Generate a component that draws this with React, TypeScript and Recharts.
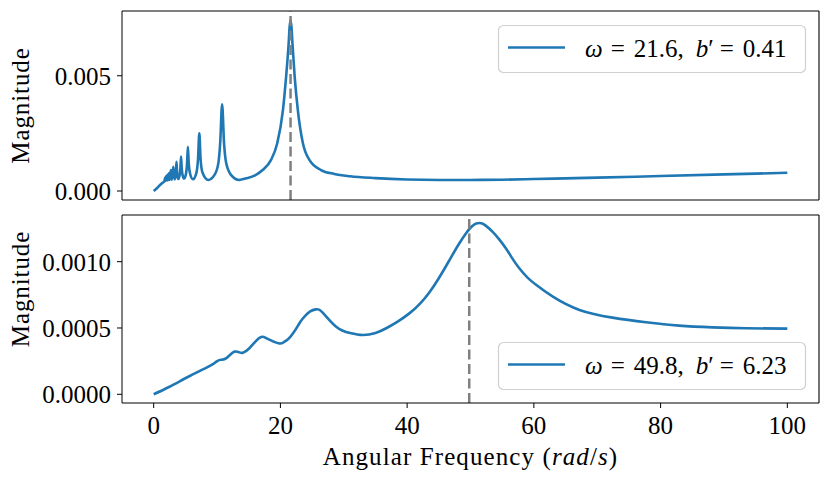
import React from "react";
import { LineChart, Line, XAxis, YAxis, ReferenceLine, Legend } from "recharts";

const BLUE = "#1f77b4";
const FONT = "'Liberation Serif', 'DejaVu Serif', serif";

// top panel: magnitude vs angular frequency (rad/s)
const topFreq = [
  0, 0.5, 1.0, 1.4, 1.7, 1.8, 1.88, 1.96, 2.06, 2.16, 2.27, 2.4, 2.53, 2.7, 2.87, 3.09, 3.3,
  3.5, 3.6, 3.7, 3.9, 4.1, 4.22, 4.32, 4.42, 4.55, 4.8, 5.1, 5.27, 5.4, 5.53, 5.75, 6.2,
  6.75, 7.0, 7.2, 7.4, 7.7, 8.6, 9.6, 10.2, 10.5, 10.8, 11.1, 11.45, 12.2, 13.5,
  14.6, 16.0, 17.2, 18.5, 19.5, 20.4, 20.9, 21.3, 21.45, 21.6, 21.75, 21.9, 22.25, 22.75,
  23.55, 24.6, 26.4, 28.5, 31, 35, 40, 45, 50, 55, 60, 70, 80, 90, 100,
];
const topMag = [
  0, 0.00012, 0.00026, 0.00036, 0.00043, 0.00058, 0.00045, 0.00064, 0.00046, 0.0007, 0.00047,
  0.00077, 0.00048, 0.00091, 0.00049, 0.00105, 0.0005, 0.00075, 0.00127, 0.00075, 0.00052,
  0.0007, 0.001, 0.00149, 0.001, 0.0007, 0.00054, 0.00075, 0.0012, 0.00192, 0.0012, 0.00075,
  0.00051, 0.0008, 0.0014, 0.0025, 0.0014, 0.0008, 0.00048, 0.0007, 0.0012, 0.0021, 0.00376,
  0.0021, 0.0012, 0.0007, 0.00048, 0.00055, 0.00068, 0.00091, 0.00134, 0.00207, 0.00351,
  0.00496, 0.0064, 0.0071, 0.00742, 0.0071, 0.0064, 0.00496, 0.00351, 0.00207, 0.00134,
  0.00091, 0.00074, 0.00064, 0.00056, 0.0005, 0.00048, 0.00048, 0.00049, 0.00052, 0.00058,
  0.00065, 0.00072, 0.00079,
];

// bottom panel
const bottomFreq = [
  0, 2.5, 5.7, 8.8, 9.6, 10.1, 10.6, 11.3, 12.0, 12.8, 13.4, 14.1, 15.1, 16.2, 17.1, 18.0,
  19.7, 20.5, 21.2, 22.0, 22.8, 23.5, 24.7, 25.7, 26.6, 28.8, 31.0, 33.0, 35.0, 36.7, 38.5,
  40.4, 42.0, 43.5, 45.0, 46.6, 48.0, 49.3, 50.2, 50.9, 51.7, 52.4, 53.5, 54.5, 55.6, 56.6,
  57.7, 59.0, 60.4, 63.0, 67.2, 72.4, 77.7, 82.9, 88.2, 93.4, 100,
];
const bottomMag = [
  0, 0.000057, 0.000138, 0.000213, 0.000236, 0.000252, 0.00026, 0.000268, 0.000295, 0.000322,
  0.000318, 0.000314, 0.000347, 0.000405, 0.000434, 0.000418, 0.000385, 0.000392, 0.000415,
  0.00046, 0.00052, 0.00057, 0.000625, 0.000641, 0.00062, 0.00051, 0.000462, 0.000447,
  0.000462, 0.000498, 0.000548, 0.000612, 0.000682, 0.000768, 0.000875, 0.001005, 0.00112,
  0.001215, 0.001265, 0.001288, 0.00129, 0.001272, 0.001225, 0.00117, 0.0011, 0.001025,
  0.00095, 0.00088, 0.000824, 0.000736, 0.000636, 0.000578, 0.000543, 0.000518, 0.000505,
  0.000498, 0.000495,
];

const xTicks = [0, 20, 40, 60, 80, 100];
const topYTicks = [0, 0.005];
const bottomYTicks = [0, 0.0005, 0.001];

const topOmega = 21.6;
const topB = 0.41;
const bottomOmega = 49.8;
const bottomB = 6.23;

const zip = (xs: number[], ys: number[]) => xs.map((f, i) => ({ f, m: ys[i] }));
const topData = zip(topFreq, topMag);
const bottomData = zip(bottomFreq, bottomMag);

const X_DOMAIN: [number, number] = [-5, 105];
const TOP_DOMAIN: [number, number] = [-0.00039, 0.00781];
const BOTTOM_DOMAIN: [number, number] = [-0.0000656, 0.001352];

const tickStyle = { fill: "#000", fontSize: 25, fontFamily: FONT };

function LegendBox({ omega, b }: { omega: number; b: number }) {
  return (
    <svg width={308} height={48} style={{ display: "block", overflow: "visible" }}>
      <rect x={0.5} y={0.5} width={307} height={47} rx={5} fill="#fff" fillOpacity={0.8} stroke="#d0d0d0" strokeWidth={1.2} />
      <line x1={10} x2={67} y1={22.5} y2={22.5} stroke={BLUE} strokeWidth={2.6} />
      <text x={87} y={32} fontSize={25} fill="#000" fontFamily={FONT}>
        <tspan fontStyle="italic">ω</tspan>
        <tspan dx={8}>=</tspan>
        <tspan dx={9}>{omega.toFixed(1)},</tspan>
        <tspan dx={12} fontStyle="italic">b</tspan>
        <tspan>′</tspan>
        <tspan dx={6}>=</tspan>
        <tspan dx={9}>{b.toFixed(2)}</tspan>
      </text>
    </svg>
  );
}

function YLabel(props: any) {
  const vb = props.viewBox || { y: 11, height: 189 };
  const cy = vb.y + vb.height / 2 + (props.shift || 0);
  return (
    <text
      x={29}
      y={cy}
      transform={`rotate(-90 29 ${cy})`}
      textAnchor="middle"
      fontSize={25}
      letterSpacing={0.9}
      fill="#000"
      fontFamily={FONT}
    >
      Magnitude
    </text>
  );
}

function XLabel(props: any) {
  const vb = props.viewBox || { x: 122, y: 199, width: 697 };
  return (
    <text
      x={vb.x + vb.width / 2}
      y={vb.y + 62}
      textAnchor="middle"
      fontSize={25}
      letterSpacing={1.1}
      fill="#000"
      fontFamily={FONT}
    >
      Angular Frequency (<tspan fontStyle="italic">rad</tspan>/<tspan fontStyle="italic">s</tspan>)
    </text>
  );
}

function Panel({
  data, height, yDomain, yTicks, digits, omega, b, legendTop, showX, curve, labelShift,
}: {
  data: { f: number; m: number }[]; height: number; yDomain: [number, number]; yTicks: number[];
  digits: number; omega: number; b: number; legendTop: number; showX: boolean;
  curve: "monotone" | "natural"; labelShift: number;
}) {
  return (
    <LineChart width={830} height={height} data={data} margin={{ top: 11, right: 11, bottom: 0, left: 0 }}>
      <XAxis
        dataKey="f"
        type="number"
        domain={X_DOMAIN}
        ticks={xTicks}
        allowDataOverflow
        height={showX ? 81 : 15}
        stroke="#000"
        tickSize={5}
        tickMargin={8}
        tick={showX ? tickStyle : false}
        label={showX ? <XLabel /> : undefined}
      />
      <YAxis
        type="number"
        domain={yDomain}
        ticks={yTicks}
        allowDataOverflow
        width={122}
        stroke="#000"
        tickSize={5}
        tickMargin={6}
        tick={tickStyle}
        tickFormatter={(v: number) => v.toFixed(digits)}
        label={<YLabel shift={labelShift} />}
      />
      <Line type={curve} dataKey="m" stroke={BLUE} strokeWidth={2.6} dot={false} isAnimationActive={false} />
      <ReferenceLine x={omega} stroke="#808080" strokeWidth={2.5} strokeDasharray="10 4.5" />
      {/* top and right spines */}
      <ReferenceLine y={yDomain[1]} stroke="#000" strokeWidth={1.1} />
      <ReferenceLine x={X_DOMAIN[1]} stroke="#000" strokeWidth={1.1} />
      <Legend
        layout="horizontal"
        verticalAlign="middle"
        align="center"
        content={() => <LegendBox omega={omega} b={b} />}
        wrapperStyle={{ left: 498, top: legendTop, width: 308, height: 48 }}
      />
    </LineChart>
  );
}

export default function App() {
  return (
    <div style={{ position: "absolute", left: 0, top: 0, width: 830, height: 484, background: "#fff", fontFamily: FONT }}>
      <div style={{ position: "absolute", left: 0, top: 0 }}>
        <Panel
          data={topData}
          height={215}
          yDomain={TOP_DOMAIN}
          yTicks={topYTicks}
          digits={3}
          omega={topOmega}
          b={topB}
          legendTop={25}
          showX={false}
          curve="monotone"
          labelShift={0}
        />
      </div>
      <div style={{ position: "absolute", left: 0, top: 204 }}>
        <Panel
          data={bottomData}
          height={280}
          yDomain={BOTTOM_DOMAIN}
          yTicks={bottomYTicks}
          digits={4}
          omega={bottomOmega}
          b={bottomB}
          legendTop={138}
          showX
          curve="natural"
          labelShift={-20}
        />
      </div>
    </div>
  );
}
